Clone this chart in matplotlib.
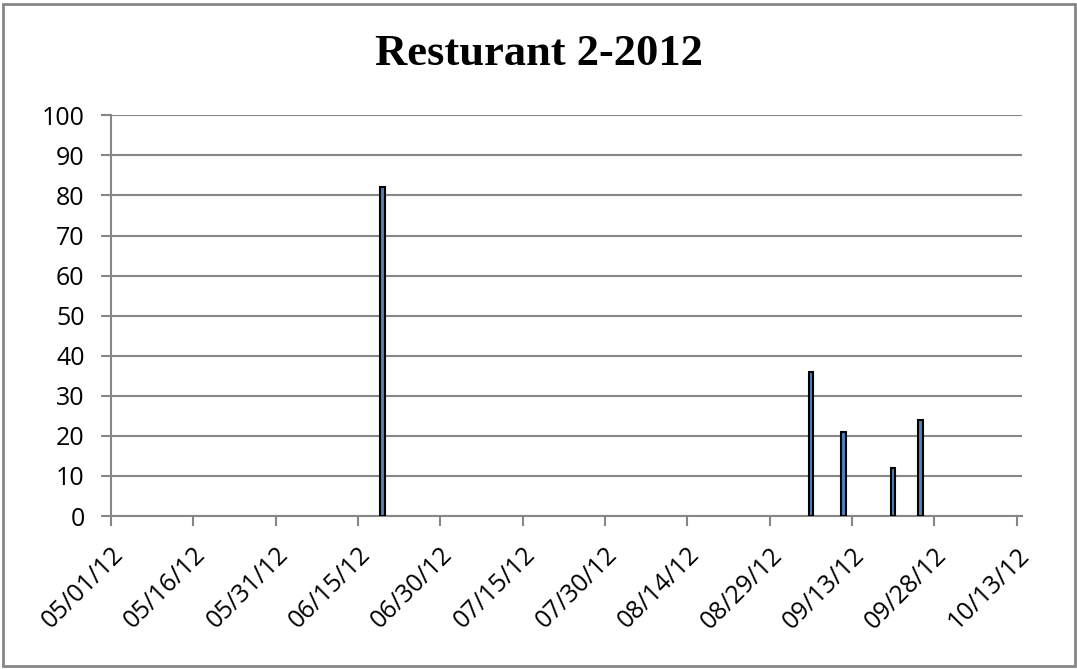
import numpy as np
import pandas as pd
import matplotlib.pyplot as plt
import matplotlib.dates as mdates
from matplotlib.patches import Rectangle

# data
dates = pd.to_datetime(["2012-06-19", "2012-09-05", "2012-09-11", "2012-09-20", "2012-09-25"])
values = [82, 36, 21, 12, 24]
tick_dates = pd.date_range("2012-05-01", "2012-10-13", freq="15D")
title = "Resturant 2-2012"

grey = "#868686"

fig = plt.figure(figsize=(10.77, 6.69), dpi=100)
ax = fig.add_axes([111 / 1077, 1 - 516 / 669, (1022 - 111) / 1077, (516 - 115.3) / 669])

# Excel puts each bar in the middle of its day slot
ax.bar(dates + pd.Timedelta(hours=12), values, width=0.8,
       color="#4F81BD", edgecolor="black", linewidth=1.5, zorder=3)

ax.set_xlim(pd.Timestamp("2012-05-01"), pd.Timestamp("2012-10-14"))
ax.set_ylim(0, 100)
ax.set_yticks(np.arange(0, 101, 10))
ax.set_xticks(tick_dates)
ax.xaxis.set_major_formatter(mdates.DateFormatter("%m/%d/%y"))

ax.grid(axis="y", color=grey, linewidth=1.5, zorder=0)
for s in ["top", "right"]:
    ax.spines[s].set_visible(False)
for s in ["left", "bottom"]:
    ax.spines[s].set_color(grey)
    ax.spines[s].set_linewidth(1.5)

ax.tick_params(axis="both", color=grey, width=1.5, length=7, labelsize=18)
ax.tick_params(axis="y", pad=12)
ax.tick_params(axis="x", pad=12)
for lab in ax.get_yticklabels():
    lab.set_fontfamily("Open Sans")
for lab in ax.get_xticklabels():
    lab.set_fontfamily("Open Sans")
    lab.set_rotation(45)
    lab.set_ha("right")
    lab.set_rotation_mode("anchor")

fig.text(0.5, 1 - 54 / 669, title, ha="center", va="center",
         fontsize=32, fontweight="bold", family="Liberation Serif")

# chart frame
fig.patches.append(Rectangle((3 / 1077, 3 / 669), 1072 / 1077, 662 / 669,
                             transform=fig.transFigure, fill=False,
                             edgecolor=grey, linewidth=2))

fig.savefig("out.png", dpi=100)
